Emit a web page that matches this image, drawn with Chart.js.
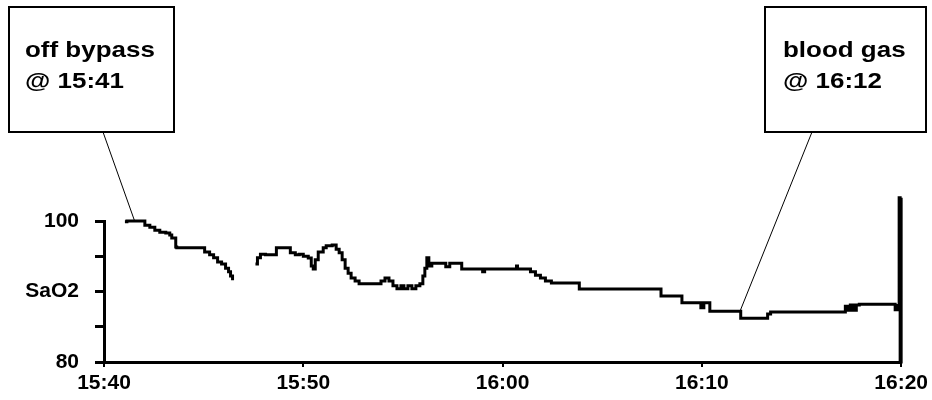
<!DOCTYPE html>
<html>
<head>
<meta charset="utf-8">
<script src="https://cdn.jsdelivr.net/npm/chart.js@4.4.1/dist/chart.umd.min.js"></script>
<style>
  html, body { margin: 0; padding: 0; background: #fff; }
  #wrap { width: 932px; height: 400px; }
</style>
</head>
<body>
<div id="wrap"><canvas id="sat"></canvas></div>
<script>
// minutes after 15:40, and SaO2 (null = signal gap)
const minutes = [1.05, 1.15, 1.95, 2.05, 2.3, 2.55, 2.8, 3.1, 3.3, 3.4, 3.6, 3.65, 5.05, 5.3, 5.5, 5.7, 5.9, 6.1, 6.25, 6.35, 6.45,
  7.0,
  7.6, 7.7, 7.85, 8.1, 8.65, 9.35, 9.6, 9.8, 10.0, 10.25, 10.4, 10.5, 10.6, 10.75, 11.0, 11.15, 11.45, 11.65, 11.8, 11.95,
  12.1, 12.25, 12.4, 12.6, 12.8, 13.9, 14.1, 14.3, 14.5, 14.7, 14.9, 15.05, 15.25, 15.45, 15.65, 15.85, 16.0, 16.1, 16.2,
  16.3, 16.45, 17.15, 17.35, 17.95, 19.0, 19.1, 20.7, 20.75, 21.4, 21.65, 21.9, 22.15, 22.45, 23.85, 27.95, 29.0, 29.95,
  30.1, 30.4, 31.95, 33.3, 33.45, 37.2, 37.3, 37.45, 37.6, 37.75, 37.9, 39.7, 39.85, 39.9, 39.95, 40.0];
const sao2 = [99.9, 100.0, 100.0, 99.4, 99.1, 98.7, 98.4, 98.3, 98.0, 97.6, 96.3, 96.2, 95.6, 95.2, 94.8, 94.2, 93.9, 93.3, 92.8, 92.2, 91.6,
  null,
  93.9, 94.8, 95.3, 95.2, 96.2, 95.5, 95.2, 95.3, 95.0, 94.75, 93.6, 93.2, 94.5, 95.6, 96.2, 96.5, 96.6, 96.0, 95.5, 94.5,
  93.3, 92.6, 91.9, 91.5, 91.1, 91.5, 91.9, 91.5, 90.8, 90.4, 90.8, 90.4, 90.8, 90.4, 90.8, 91.1, 92.2, 93.3, 94.8,
  93.6, 94.0, 93.5, 94.0, 93.2, 92.8, 93.2, 93.6, 93.2, 92.8, 92.3, 91.9, 91.5, 91.2, 90.35, 89.35, 88.4, 87.7,
  88.4, 87.2, 86.2, 86.8, 87.1, 87.9, 87.35, 88.1, 87.35, 88.1, 88.2, 87.4, 88.0, 103.3, 80.0, 103.3];

const xTickLabels = ['15:40', '15:50', '16:00', '16:10', '16:20'];
const yTickLabels = { 100: '100', 90: 'SaO2', 80: '80' };

const noteLines = [['off bypass', '@ 15:41'], ['blood gas', '@ 16:12']];
const noteTarget = [[1.55, 99.9], [31.9, 87.1]];

const FONT = "'Liberation Sans', Arial, sans-serif";

const notes = {
  id: 'notes',
  afterDraw(chart) {
    const { ctx, scales: { x, y } } = chart;
    const boxes = [
      { left: 9, top: 7, w: 165, h: 125, textX: 25, tail: 103 },
      { left: 765, top: 7, w: 161, h: 125, textX: 783, tail: 812 }
    ];
    ctx.save();
    boxes.forEach((b, i) => {
      // pointer
      ctx.strokeStyle = '#000';
      ctx.lineWidth = 1;
      ctx.beginPath();
      ctx.moveTo(b.tail, b.top + b.h);
      ctx.lineTo(x.getPixelForValue(noteTarget[i][0]), y.getPixelForValue(noteTarget[i][1]));
      ctx.stroke();
      // box
      ctx.lineWidth = 2;
      ctx.strokeRect(b.left, b.top, b.w, b.h);
      // text, slightly widened like the original
      ctx.fillStyle = '#000';
      ctx.font = 'bold 22px ' + FONT;
      ctx.textBaseline = 'alphabetic';
      noteLines[i].forEach((t, k) => {
        ctx.save();
        ctx.translate(b.textX, 57 + k * 31);
        ctx.scale(1.18, 1);
        ctx.fillText(t, 0, 0);
        ctx.restore();
      });
    });
    ctx.restore();
  }
};

new Chart(document.getElementById('sat'), {
  type: 'line',
  data: {
    datasets: [{
      data: minutes.map((m, i) => ({ x: m, y: sao2[i] })),
      borderColor: '#000',
      borderWidth: 3,
      stepped: true,
      pointRadius: 0,
      spanGaps: false,
      clip: false
    }]
  },
  options: {
    responsive: true,
    maintainAspectRatio: false,
    animation: false,
    layout: { padding: { left: 0, right: 28, top: 221, bottom: 0 } },
    plugins: { legend: { display: false }, tooltip: { enabled: false } },
    scales: {
      x: {
        type: 'linear',
        min: 0,
        max: 40,
        afterFit: s => { s.height = 38; },
        ticks: {
          stepSize: 10,
          autoSkip: false,
          maxRotation: 0,
          color: '#000',
          padding: 4,
          font: { family: FONT, size: 21, weight: 'bold' },
          callback: v => xTickLabels[v / 10]
        },
        grid: { drawOnChartArea: false, tickLength: 5, lineWidth: 2, color: '#000' },
        border: { color: '#000', width: 3 }
      },
      y: {
        min: 80,
        max: 100,
        afterFit: s => { s.width = 104; },
        ticks: {
          stepSize: 5,
          color: '#000',
          padding: 16,
          font: { family: FONT, size: 21, weight: 'bold' },
          callback: v => yTickLabels[v] ?? ''
        },
        grid: { drawOnChartArea: false, tickLength: 9, lineWidth: 3, color: '#000' },
        border: { color: '#000', width: 3 }
      }
    }
  },
  plugins: [notes]
});
</script>
</body>
</html>
